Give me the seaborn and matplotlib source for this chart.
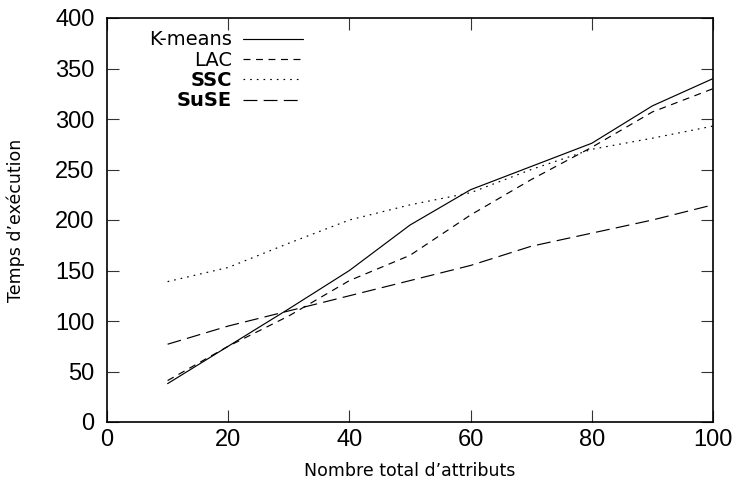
import matplotlib
matplotlib.use("Agg")
import matplotlib.pyplot as plt
import seaborn as sns
import pandas as pd

x_vals = [10, 20, 30, 40, 50, 60, 70, 80, 90, 100]
kmeans = [38, 75, 112, 150, 195, 230, 253, 276, 313, 340]
lac = [41, 75, 105, 140, 165, 205, 240, 272, 307, 330]
ssc = [139, 153, 177, 200, 215, 227, 250, 270, 281, 293]
suse = [77, 95, 110, 125, 140, 155, 174, 187, 200, 215]
series_names = ["K-means", "LAC", "SSC", "SuSE"]
x_ticks = [0, 20, 40, 60, 80, 100]
y_ticks = [0, 50, 100, 150, 200, 250, 300, 350, 400]
x_label = "Nombre total d\u2019attributs"
y_label = "Temps d\u2019ex\u00e9cution"

sns.set_theme(style="white")
plt.rcParams["font.family"] = ["DejaVu Sans"]
plt.rcParams["lines.scale_dashes"] = False
plt.rcParams["text.color"] = "black"
plt.rcParams["axes.labelcolor"] = "black"
plt.rcParams["xtick.color"] = "black"
plt.rcParams["ytick.color"] = "black"

df = pd.DataFrame({
    "x": x_vals * 4,
    "y": kmeans + lac + ssc + suse,
    "algo": sum([[n] * len(x_vals) for n in series_names], []),
})

fig = plt.figure(figsize=(7.4, 4.84), dpi=100)
ax = fig.add_axes([107 / 740, 62 / 484, 606 / 740, 404 / 484])

dashes = {
    "K-means": "",
    "LAC": (5, 4),
    "SSC": (1.2, 3.6),
    "SuSE": (10, 4.5),
}
sns.lineplot(data=df, x="x", y="y", hue="algo", style="algo",
             palette=["black"] * 4, dashes=dashes, linewidth=0.85,
             ax=ax, legend=True)

ax.set_xlim(0, 100)
ax.set_ylim(0, 400)
ax.set_xticks(x_ticks)
ax.set_yticks(y_ticks)
ax.set_xticklabels([str(t) for t in x_ticks], fontfamily="Liberation Sans", fontsize=17)
ax.set_yticklabels([str(t) for t in y_ticks], fontfamily="Liberation Sans", fontsize=17)
ax.tick_params(direction="in", length=8.5, width=0.8, color="#333333",
               labelcolor="black",
               top=True, right=True, bottom=True, left=True, pad=5)
ax.tick_params(axis="y", pad=9)
for s in ax.spines.values():
    s.set_visible(True)
    s.set_color("black")
    s.set_linewidth(1.2)

ax.set_xlabel(x_label, fontsize=12.5, labelpad=8, color="black")
ax.set_ylabel(y_label, fontsize=12.5, labelpad=22, color="black")

handles, labels = ax.get_legend_handles_labels()
leg = ax.legend(handles, labels, loc="upper left", bbox_to_anchor=(0.047, 1.003),
                frameon=False, markerfirst=False, fontsize=14,
                handlelength=3.1, handletextpad=0.55, labelspacing=0.07,
                borderpad=0.2)
for t in leg.get_texts():
    t.set_color("black")
    if t.get_text() in ("SSC", "SuSE"):
        t.set_fontweight("bold")
for h in leg.get_lines():
    h.set_linewidth(0.85)

fig.savefig("out.png", dpi=100)
